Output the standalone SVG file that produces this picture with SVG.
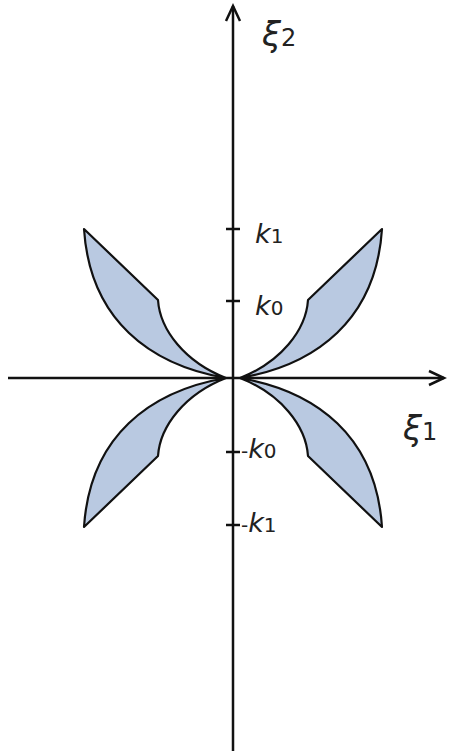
<svg xmlns="http://www.w3.org/2000/svg" width="453" height="751" viewBox="0 0 453 751">
<style>
.ax{stroke:#111;stroke-width:2.5;fill:none}
.petal{fill:#b9c9e1;stroke:#111;stroke-width:2.2;stroke-linejoin:round}
.lbl{font-family:"DejaVu Sans",sans-serif;fill:#222}
.k{font-style:italic;font-size:27px}
.sub{font-size:20px}
</style>
<rect width="453" height="751" fill="#fff"/>
<g id="petals">
<g id="petal-ul"><path class="petal" d="M84,229 L158,300 C160,330 185,362 226,378 C150,365 90,320 84,229 Z"/></g>
<g id="petal-ur" transform="translate(466,0) scale(-1,1)"><path class="petal" d="M84,229 L158,300 C160,330 185,362 226,378 C150,365 90,320 84,229 Z"/></g>
<g id="petal-ll" transform="translate(0,756) scale(1,-1)"><path class="petal" d="M84,229 L158,300 C160,330 185,362 226,378 C150,365 90,320 84,229 Z"/></g>
<g id="petal-lr" transform="translate(466,756) scale(-1,-1)"><path class="petal" d="M84,229 L158,300 C160,330 185,362 226,378 C150,365 90,320 84,229 Z"/></g>
</g>
<g id="axes">
<line class="ax" x1="233" y1="751" x2="233" y2="6"/>
<polyline class="ax" points="226,21 233,6 240,21"/>
<line class="ax" x1="8" y1="378" x2="444" y2="378"/>
<polyline class="ax" points="429,371 444,378 429,385"/>
<g id="ticks">
<line class="ax" x1="226" y1="229" x2="240" y2="229"/>
<line class="ax" x1="226" y1="301" x2="240" y2="301"/>
<line class="ax" x1="226" y1="452" x2="240" y2="452"/>
<line class="ax" x1="226" y1="525" x2="240" y2="525"/>
</g>
</g>
<g id="labels" class="lbl">
<text x="262" y="46"><tspan font-style="italic" font-size="34">ξ</tspan><tspan font-size="24">2</tspan></text>
<text x="403" y="440"><tspan font-style="italic" font-size="34">ξ</tspan><tspan font-size="24">1</tspan></text>
<text x="255" y="243"><tspan class="k">k</tspan><tspan class="sub">1</tspan></text>
<text x="255" y="315"><tspan class="k">k</tspan><tspan class="sub">0</tspan></text>
<text x="241" y="458"><tspan font-size="20">-</tspan><tspan class="k">k</tspan><tspan class="sub">0</tspan></text>
<text x="241" y="532"><tspan font-size="20">-</tspan><tspan class="k">k</tspan><tspan class="sub">1</tspan></text>
</g>
</svg>
